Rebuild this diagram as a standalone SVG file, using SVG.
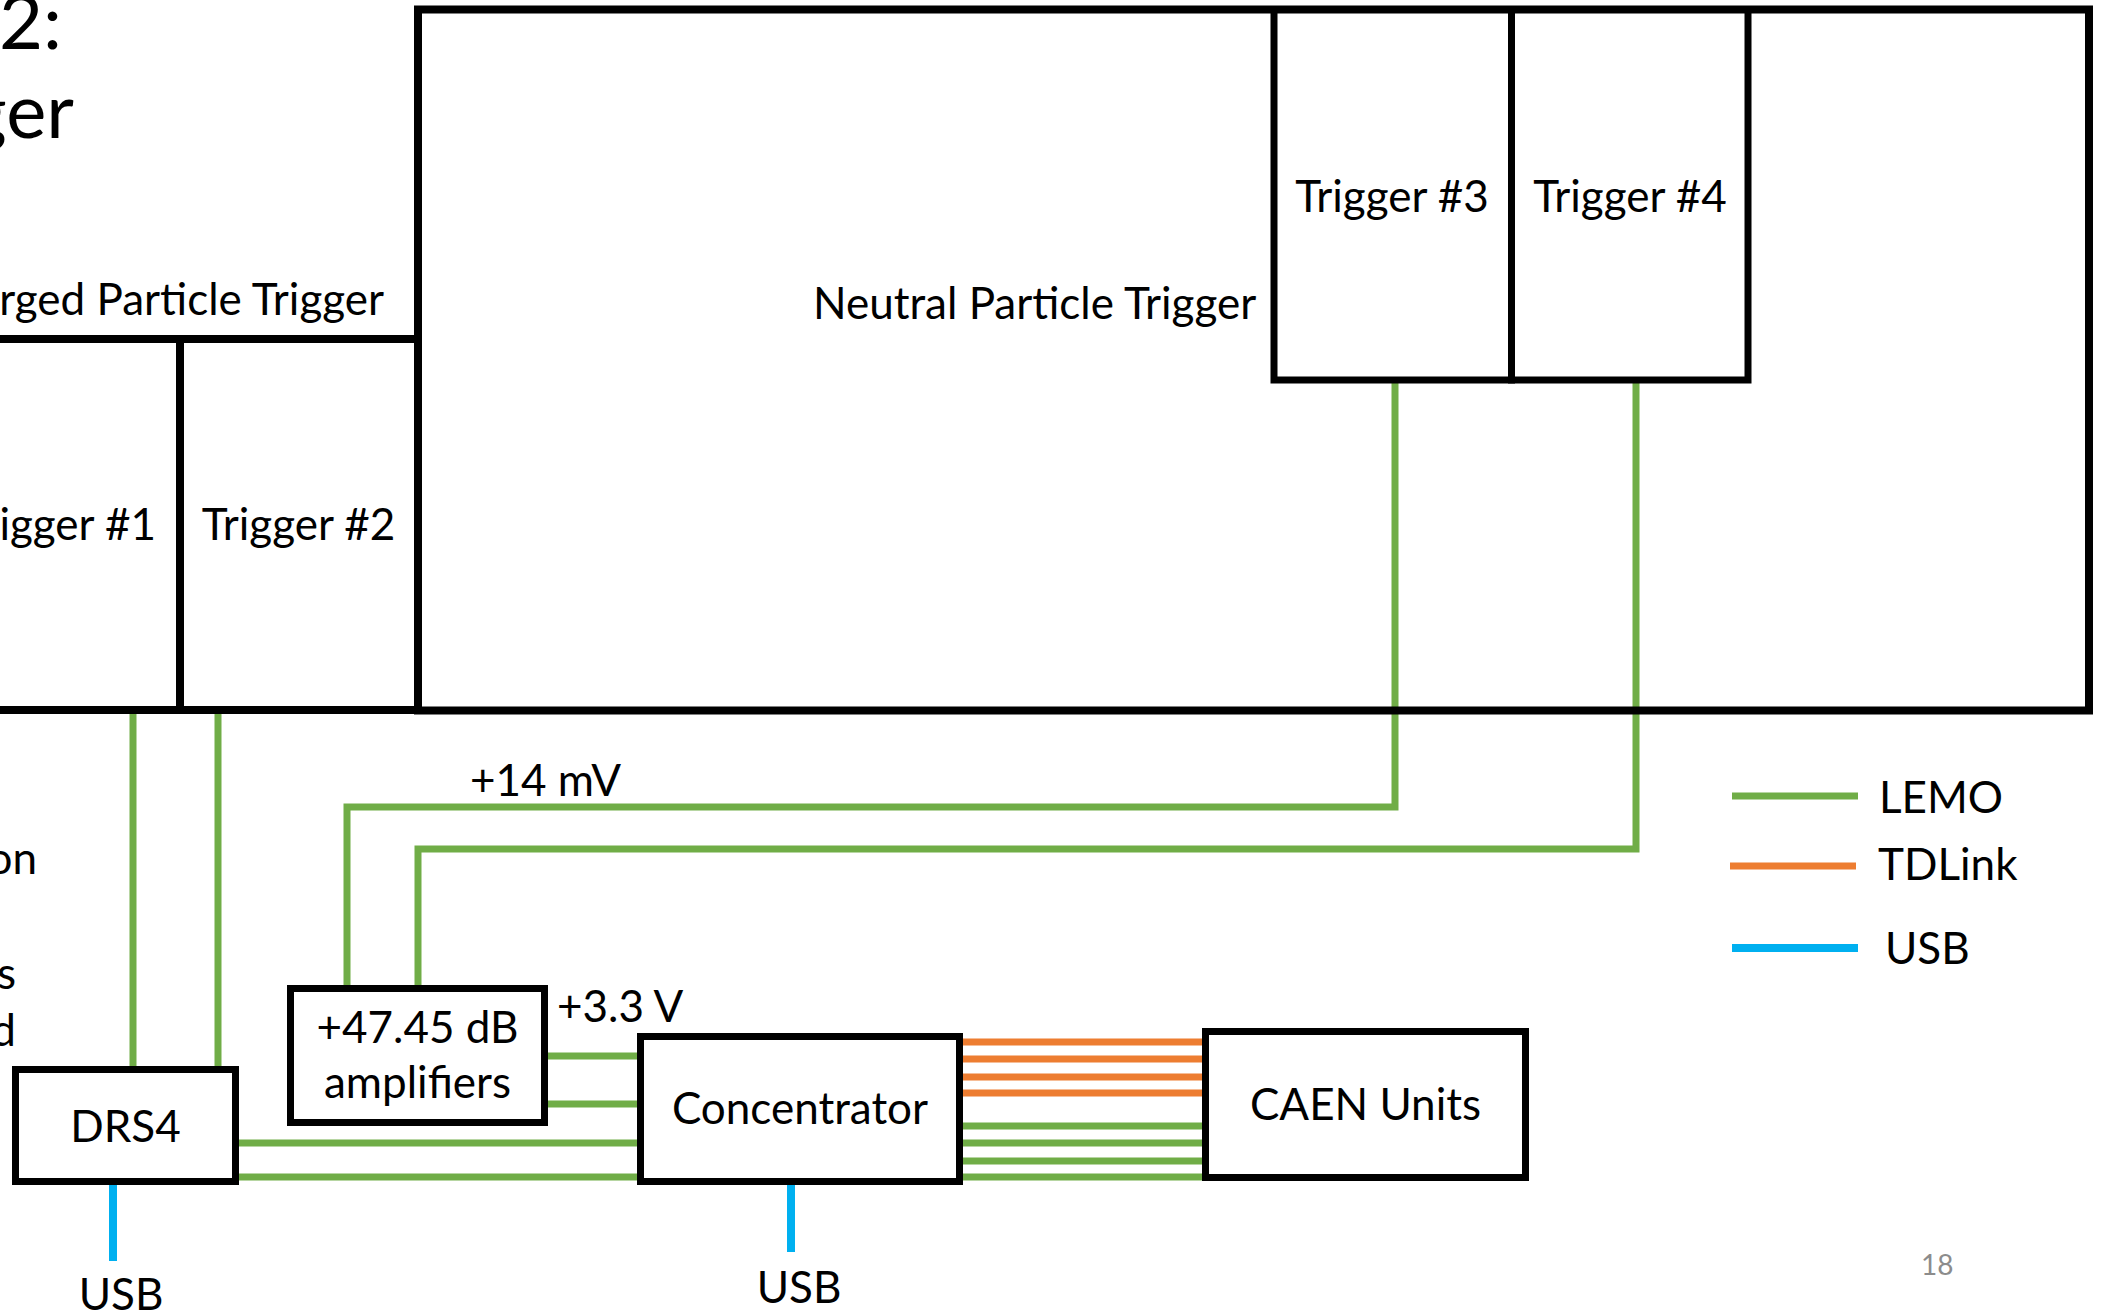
<svg xmlns="http://www.w3.org/2000/svg" width="2101" height="1315" viewBox="0 0 2101 1315">
<style>
  text { font-family: Lato, "Open Sans", "Liberation Sans", sans-serif; fill: #000; font-size: 44px; }
  .big { font-size: 76px; }
  .pg { font-size: 28px; fill: #8C8C8C; }
  .box { fill: none; stroke: #000; stroke-width: 7; }
  .frame { fill: none; stroke: #000; stroke-width: 8; }
  .lemo { fill: none; stroke: #70AD47; stroke-width: 7; }
  .td { fill: none; stroke: #ED7D31; stroke-width: 7; }
  .usb { fill: none; stroke: #00B0F0; stroke-width: 8; }
</style>
<rect width="2101" height="1315" fill="#fff"/>

<g id="title">
  <text class="big" x="62" y="49" text-anchor="end">2:</text>
  <text class="big" x="74" y="138" text-anchor="end">ger</text>
</g>

<g id="side-notes">
  <text x="37" y="874" text-anchor="end">on</text>
  <text x="16" y="989" text-anchor="end">s</text>
  <text x="16" y="1046" text-anchor="end">d</text>
</g>

<g id="connectors">
  <line class="lemo" x1="133" y1="714" x2="133" y2="1066"/>
  <line class="lemo" x1="218" y1="714" x2="218" y2="1066"/>
  <polyline class="lemo" points="1395,383 1395,807 347,807 347,985"/>
  <polyline class="lemo" points="1636,383 1636,849 418,849 418,985"/>
  <line class="lemo" x1="548" y1="1056" x2="637" y2="1056"/>
  <line class="lemo" x1="548" y1="1104" x2="637" y2="1104"/>
  <line class="lemo" x1="239" y1="1143" x2="637" y2="1143"/>
  <line class="lemo" x1="239" y1="1177" x2="637" y2="1177"/>
  <line class="td" x1="963" y1="1042" x2="1202" y2="1042"/>
  <line class="td" x1="963" y1="1059" x2="1202" y2="1059"/>
  <line class="td" x1="963" y1="1077" x2="1202" y2="1077"/>
  <line class="td" x1="963" y1="1093" x2="1202" y2="1093"/>
  <line class="lemo" x1="963" y1="1126" x2="1202" y2="1126"/>
  <line class="lemo" x1="963" y1="1143" x2="1202" y2="1143"/>
  <line class="lemo" x1="963" y1="1161" x2="1202" y2="1161"/>
  <line class="lemo" x1="963" y1="1177" x2="1202" y2="1177"/>
  <line class="usb" x1="113" y1="1185" x2="113" y2="1261"/>
  <line class="usb" x1="791" y1="1185" x2="791" y2="1252"/>
  <text x="470" y="796">+14 mV</text>
  <text x="557" y="1022">+3.3 V</text>
  <text x="121" y="1310" text-anchor="middle">USB</text>
  <text x="799" y="1303" text-anchor="middle">USB</text>
</g>

<g id="charged-trigger">
  <path class="frame" d="M-10,339 H418 M-10,710 H418 M180,339 V710"/>
  <text x="384" y="315" text-anchor="end">rged Particle Trigger</text>
</g>
<g id="trigger1">
  <text x="156" y="540" text-anchor="end">Trigger #1</text>
</g>
<g id="trigger2">
  <text x="298.5" y="540" text-anchor="middle">Trigger #2</text>
</g>

<g id="neutral-trigger">
  <rect class="frame" x="418" y="9.5" width="1671" height="701"/>
  <text x="813" y="319">Neutral Particle Trigger</text>
</g>
<g id="trigger3">
  <rect class="box" x="1274" y="9.5" width="237.5" height="370.5"/>
  <text x="1392" y="212" text-anchor="middle">Trigger #3</text>
</g>
<g id="trigger4">
  <rect class="box" x="1511.5" y="9.5" width="236.5" height="370.5"/>
  <text x="1630" y="212" text-anchor="middle">Trigger #4</text>
</g>

<g id="drs4">
  <rect class="box" x="15.5" y="1069.5" width="220" height="112"/>
  <text x="125.5" y="1142" text-anchor="middle">DRS4</text>
</g>
<g id="amplifiers">
  <rect class="box" x="290.5" y="988.5" width="254" height="134"/>
  <text x="417.5" y="1043" text-anchor="middle">+47.45 dB</text>
  <text x="417.5" y="1098" text-anchor="middle">amplifiers</text>
</g>
<g id="concentrator">
  <rect class="box" x="640.5" y="1036.5" width="319" height="145"/>
  <text x="800" y="1124" text-anchor="middle">Concentrator</text>
</g>
<g id="caen">
  <rect class="box" x="1205.5" y="1031.5" width="320" height="146"/>
  <text x="1365.5" y="1120" text-anchor="middle">CAEN Units</text>
</g>

<g id="legend">
  <line class="lemo" x1="1732" y1="796" x2="1858" y2="796"/>
  <text x="1879" y="813">LEMO</text>
  <line class="td" x1="1730" y1="866" x2="1856" y2="866"/>
  <text x="1878" y="880">TDLink</text>
  <line class="usb" x1="1732" y1="948" x2="1858" y2="948"/>
  <text x="1885" y="964">USB</text>
</g>

<text class="pg" x="1921" y="1275">18</text>
</svg>
